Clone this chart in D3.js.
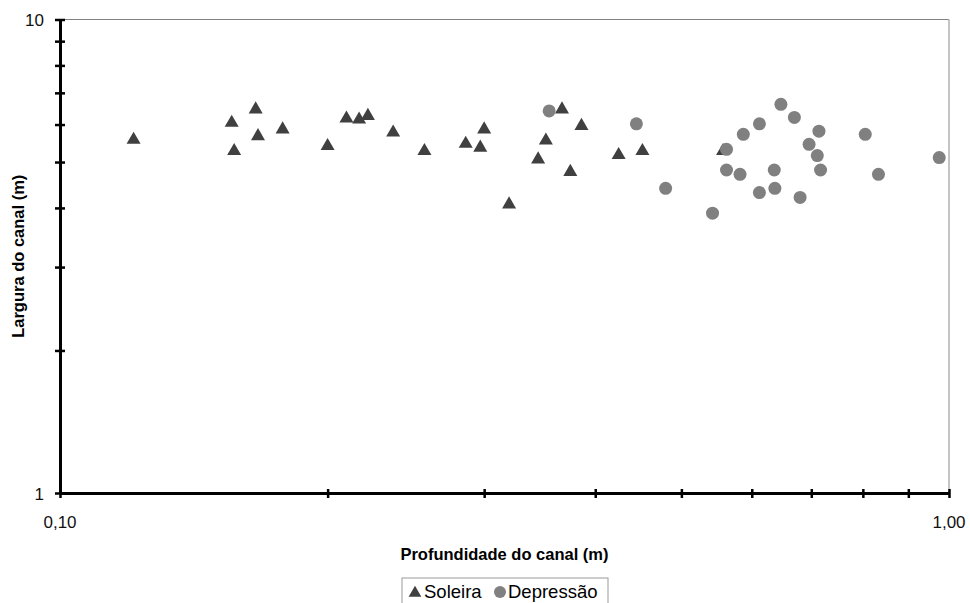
<!DOCTYPE html>
<html>
<head>
<meta charset="utf-8">
<script src="https://cdn.jsdelivr.net/npm/d3@7"></script>
<style>
  body { margin: 0; background: #fff; }
  svg { display: block; font-family: Arial, "Liberation Sans", sans-serif; }
</style>
</head>
<body>
<div id="chart"></div>
<script>
// Soleira (triangles): depth (m), width (m)
const soleiraDepth = [0.121, 0.156, 0.157, 0.166, 0.167, 0.178, 0.200, 0.210, 0.217, 0.222, 0.237, 0.257,
  0.286, 0.297, 0.300, 0.320, 0.345, 0.352, 0.367, 0.375, 0.386, 0.425, 0.452, 0.557];
const soleiraWidth = [5.60, 6.08, 5.30, 6.49, 5.70, 5.89, 5.43, 6.21, 6.18, 6.29, 5.80, 5.30,
  5.49, 5.39, 5.89, 4.09, 5.09, 5.58, 6.49, 4.79, 5.99, 5.20, 5.30, 5.30];

// Depressao (circles)
const depressaoDepth = [0.355, 0.445, 0.480, 0.647, 0.670, 0.612, 0.587, 0.714, 0.805, 0.562, 0.696,
  0.711, 0.562, 0.582, 0.636, 0.717, 0.833, 0.975, 0.612, 0.637, 0.680, 0.542];
const depressaoWidth = [6.41, 6.02, 4.40, 6.62, 6.21, 6.02, 5.72, 5.81, 5.72, 5.32, 5.45,
  5.16, 4.81, 4.71, 4.81, 4.81, 4.71, 5.11, 4.31, 4.40, 4.21, 3.90];

const xTickLabels = ['0,10', '1,00'];
const yTickLabels = ['1', '10'];
const seriesNames = ['Soleira', 'Depressão'];

const W = 970, H = 603;
const m = {left: 60, right: 20, top: 19.5, bottom: 110};

const svg = d3.select('#chart').append('svg')
  .attr('width', W).attr('height', H);

const x = d3.scaleLog().domain([0.1, 1]).range([m.left, W - m.right - 1]);
const y = d3.scaleLog().domain([1, 10]).range([H - m.bottom, m.top]);

// plot frame (top + right)
svg.append('line')
  .attr('x1', x(0.1)).attr('x2', x(1)).attr('y1', y(10)).attr('y2', y(10))
  .attr('stroke', '#808080').attr('stroke-width', 1.2);
svg.append('line')
  .attr('x1', x(1)).attr('x2', x(1)).attr('y1', y(10)).attr('y2', y(1))
  .attr('stroke', '#c4c4c4').attr('stroke-width', 2);

// axes
const xMinor = d3.range(2, 10).map(d => d / 10);
const yMinor = d3.range(2, 10);

const xAxis = d3.axisBottom(x).tickValues([0.1].concat(xMinor, [1])).tickFormat('').tickSize(0);
const gx = svg.append('g').attr('transform', `translate(0,${y(1)})`).call(xAxis);
gx.select('.domain').attr('stroke', '#000').attr('stroke-width', 3);
gx.selectAll('.tick line').attr('y1', -4).attr('y2', 5).attr('stroke', '#000').attr('stroke-width', 2.5);

const yAxis = d3.axisLeft(y).tickValues([1].concat(yMinor, [10])).tickFormat('').tickSize(0);
const gy = svg.append('g').attr('transform', `translate(${x(0.1)},0)`).call(yAxis);
gy.select('.domain').attr('stroke', '#000').attr('stroke-width', 3);
gy.selectAll('.tick line').attr('x1', -5).attr('x2', 5).attr('stroke', '#000').attr('stroke-width', 2.5);

// tick labels
svg.selectAll('.xlab').data([0.1, 1]).enter().append('text')
  .attr('x', d => x(d)).attr('y', y(1) + 35)
  .attr('text-anchor', 'middle').attr('font-size', 17).attr('fill', '#111')
  .text((d, i) => xTickLabels[i]);
svg.selectAll('.ylab').data([1, 10]).enter().append('text')
  .attr('x', x(0.1) - 16).attr('y', d => y(d) + 6.5)
  .attr('text-anchor', 'end').attr('font-size', 17).attr('fill', '#111')
  .text((d, i) => yTickLabels[i]);

// axis titles
svg.append('text')
  .attr('x', (x(0.1) + x(1)) / 2).attr('y', 560)
  .attr('text-anchor', 'middle').attr('font-size', 16.5).attr('font-weight', 'bold')
  .text('Profundidade do canal (m)');
svg.append('text')
  .attr('transform', `translate(24,${(y(1) + y(10)) / 2}) rotate(-90)`)
  .attr('text-anchor', 'middle').attr('font-size', 16.5).attr('font-weight', 'bold')
  .text('Largura do canal (m)');

// data
const tri = d3.symbol().type(d3.symbolTriangle).size(85);
svg.append('g').selectAll('path')
  .data(soleiraDepth.map((d, i) => [d, soleiraWidth[i]]))
  .enter().append('path')
  .attr('d', tri)
  .attr('transform', d => `translate(${x(d[0])},${y(d[1]) + 1})`)
  .attr('fill', '#404040');

svg.append('g').selectAll('circle')
  .data(depressaoDepth.map((d, i) => [d, depressaoWidth[i]]))
  .enter().append('circle')
  .attr('cx', d => x(d[0])).attr('cy', d => y(d[1]))
  .attr('r', 6.5)
  .attr('fill', '#808080');

// legend
const lg = svg.append('g');
lg.append('rect').attr('x', 402).attr('y', 578).attr('width', 206).attr('height', 30)
  .attr('fill', '#fff').attr('stroke', '#999').attr('stroke-width', 1);
lg.append('path').attr('d', d3.symbol().type(d3.symbolTriangle).size(70))
  .attr('transform', 'translate(415,593)').attr('fill', '#404040');
lg.append('text').attr('x', 424).attr('y', 598).attr('font-size', 18.5).text(seriesNames[0]);
lg.append('circle').attr('cx', 500).attr('cy', 592).attr('r', 6).attr('fill', '#808080');
lg.append('text').attr('x', 508).attr('y', 598).attr('font-size', 18.5).text(seriesNames[1]);
</script>
</body>
</html>
